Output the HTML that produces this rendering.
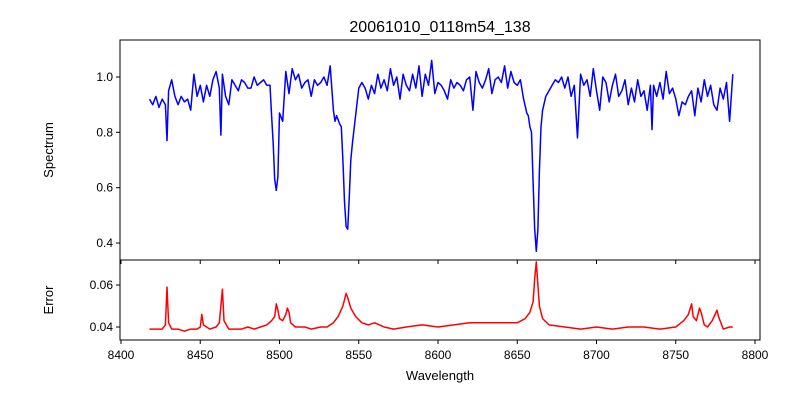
<!DOCTYPE html>
<html><head><meta charset="utf-8"><style>
body{margin:0;background:#fff;}
svg text{font-family:"Liberation Sans","DejaVu Sans",sans-serif;fill:#000;}
</style></head><body>
<svg id="chart" width="800" height="400" xmlns="http://www.w3.org/2000/svg">
<rect width="800" height="400" fill="#fff"/>
<text x="440" y="32" font-size="16" text-anchor="middle">20061010_0118m54_138</text>
<g id="topg"></g><g id="botg"></g>
<text transform="translate(53,150) rotate(-90)" font-size="13" text-anchor="middle">Spectrum</text>
<text transform="translate(53,300) rotate(-90)" font-size="13" text-anchor="middle">Error</text>
<text x="440" y="380" font-size="13" text-anchor="middle">Wavelength</text>
</svg>
<script>
const wave=[8418,8420,8422,8424,8426,8428,8429,8430,8432,8434,8436,8438,8440,8442,8444,8446,8448,8450,8452,8454,8456,8458,8460,8462,8463,8464,8466,8468,8470,8472,8474,8476,8478,8480,8482,8484,8486,8488,8490,8492,8494,8495,8496,8497,8498,8499,8500,8502,8504,8506,8508,8510,8512,8514,8516,8518,8520,8522,8524,8526,8528,8530,8532,8534,8535,8536,8538,8539,8540,8541,8542,8543,8544,8545,8546,8548,8550,8552,8554,8556,8558,8560,8562,8564,8566,8568,8570,8572,8574,8576,8578,8580,8582,8584,8586,8588,8590,8592,8594,8596,8598,8600,8602,8604,8606,8608,8610,8612,8614,8616,8618,8620,8622,8624,8626,8628,8630,8632,8634,8636,8638,8640,8642,8644,8646,8648,8650,8652,8654,8656,8657,8658,8659,8660,8661,8662,8663,8664,8665,8666,8668,8670,8672,8674,8676,8678,8680,8682,8684,8686,8688,8690,8692,8694,8696,8698,8700,8702,8704,8706,8708,8710,8712,8714,8716,8718,8720,8722,8724,8726,8728,8730,8732,8734,8735,8736,8738,8740,8742,8744,8746,8748,8750,8752,8754,8756,8758,8760,8762,8764,8766,8768,8770,8772,8774,8776,8778,8780,8782,8784,8786];
const flux=[0.92,0.90,0.93,0.89,0.92,0.90,0.77,0.95,0.99,0.93,0.90,0.93,0.91,0.92,0.88,1.01,0.93,0.97,0.91,0.97,0.93,0.99,1.02,0.96,0.79,1.01,0.93,0.90,0.99,0.97,0.95,0.99,0.98,0.96,0.96,1.00,0.97,0.98,0.99,0.97,0.97,0.86,0.76,0.63,0.59,0.64,0.87,0.84,1.02,0.94,1.03,0.99,1.01,0.96,0.98,0.99,0.93,0.99,0.97,0.98,1.00,0.97,1.04,0.88,0.84,0.86,0.83,0.82,0.70,0.55,0.46,0.45,0.56,0.70,0.76,0.86,0.96,0.98,0.96,0.92,0.97,0.94,1.01,0.96,0.99,0.95,1.03,0.97,1.00,0.92,1.01,0.97,0.95,1.01,0.96,1.04,0.93,1.01,0.97,1.06,0.94,0.98,0.97,0.95,0.92,0.99,0.96,0.98,0.97,0.95,0.99,1.00,0.88,1.02,0.98,0.96,0.99,1.03,0.94,0.99,1.00,0.98,1.04,0.96,1.02,0.98,0.97,0.99,0.92,0.87,0.86,0.82,0.80,0.62,0.45,0.37,0.45,0.66,0.82,0.88,0.93,0.95,0.97,0.99,0.98,1.00,0.96,1.00,0.93,0.97,0.78,1.01,0.97,0.99,0.93,1.03,0.95,0.88,1.00,0.98,0.91,0.97,1.01,0.93,0.95,0.99,0.90,0.96,0.91,0.99,0.93,0.95,0.88,0.97,0.81,0.97,0.93,0.98,0.92,1.02,0.94,0.96,0.92,0.86,0.91,0.90,0.93,0.95,0.86,0.96,0.91,0.99,0.93,0.97,0.90,0.88,0.96,0.92,0.98,0.84,1.01,0.95,0.87,0.95];
const errWave=[8418,8422,8426,8428,8429,8430,8432,8436,8440,8444,8448,8450,8451,8452,8456,8460,8462,8463,8464,8465,8468,8472,8476,8480,8484,8488,8492,8495,8497,8498,8499,8500,8502,8504,8505,8506,8507,8510,8516,8520,8526,8530,8534,8537,8540,8542,8543,8545,8548,8552,8556,8560,8566,8572,8580,8590,8600,8610,8620,8630,8640,8650,8655,8658,8660,8661,8662,8663,8664,8666,8670,8680,8690,8700,8710,8720,8730,8740,8750,8755,8758,8760,8761,8763,8765,8766,8768,8770,8773,8776,8777,8780,8784,8786];
const errVals=[0.039,0.039,0.039,0.041,0.059,0.042,0.039,0.039,0.038,0.039,0.039,0.040,0.046,0.041,0.039,0.040,0.042,0.050,0.058,0.043,0.039,0.039,0.039,0.040,0.039,0.040,0.041,0.043,0.045,0.051,0.048,0.044,0.043,0.046,0.049,0.047,0.042,0.040,0.040,0.039,0.040,0.040,0.042,0.045,0.050,0.056,0.054,0.049,0.045,0.042,0.041,0.042,0.040,0.039,0.040,0.041,0.040,0.041,0.042,0.042,0.042,0.042,0.044,0.047,0.052,0.063,0.071,0.060,0.050,0.044,0.041,0.040,0.039,0.040,0.039,0.040,0.040,0.039,0.040,0.043,0.046,0.051,0.045,0.043,0.049,0.047,0.041,0.040,0.043,0.048,0.045,0.039,0.040,0.040];
const xTicks=[8400,8450,8500,8550,8600,8650,8700,8750,8800];
const topTicks=[0.4,0.6,0.8,1.0];
const botTicks=[0.04,0.06];
const L=120,R=760;
const xS=w=>121+(w-8400)*634/400;
const yT=v=>77+(1.0-v)*276.7;
const yB=v=>327-(v-0.04)*2100;
const NS="http://www.w3.org/2000/svg";
const svg=document.getElementById('chart');
function mk(tag,attrs,parent){const e=document.createElementNS(NS,tag);for(const k in attrs)e.setAttribute(k,attrs[k]);(parent||svg).appendChild(e);return e;}
const topG=document.getElementById('topg'),botG=document.getElementById('botg');
const n=Math.min(wave.length,flux.length);
let p=mk('path',{d:wave.slice(0,n).map((w,i)=>(i?'L':'M')+xS(w).toFixed(1)+','+yT(flux[i]).toFixed(1)).join(''),fill:'none',stroke:'#0000ff','stroke-width':1.5,'stroke-linejoin':'round'},topG);


const m=Math.min(errWave.length,errVals.length);
let q=mk('path',{d:errWave.slice(0,m).map((w,i)=>(i?'L':'M')+xS(w).toFixed(1)+','+yB(errVals[i]).toFixed(1)).join(''),fill:'none',stroke:'#ff0000','stroke-width':1.5,'stroke-linejoin':'round'},botG);


let f1=mk('rect',{x:L,y:40,width:R-L,height:220,fill:'none',stroke:'#000','stroke-width':1});


let f2=mk('rect',{x:L,y:260,width:R-L,height:80,fill:'none',stroke:'#000','stroke-width':1});


topTicks.forEach(v=>{const y=yT(v);mk('line',{x1:L-4,x2:L,y1:y,y2:y,stroke:'#000'});
 const t=mk('text',{x:L-7,y:y+4,'font-size':12,'text-anchor':'end'});t.textContent=v.toFixed(1);
 
 });
botTicks.forEach(v=>{const y=yB(v);mk('line',{x1:L-4,x2:L,y1:y,y2:y,stroke:'#000'});
 const t=mk('text',{x:L-7,y:y+4,'font-size':12,'text-anchor':'end'});t.textContent=v.toFixed(2);
 
 });
xTicks.forEach(v=>{const x=xS(v);mk('line',{x1:x,x2:x,y1:340,y2:344,stroke:'#000'});mk('line',{x1:x,x2:x,y1:260,y2:264,stroke:'#000'});
 const t=mk('text',{x:x,y:359,'font-size':12,'text-anchor':'middle'});t.textContent=v;
 
 });
</script>
</body></html>
